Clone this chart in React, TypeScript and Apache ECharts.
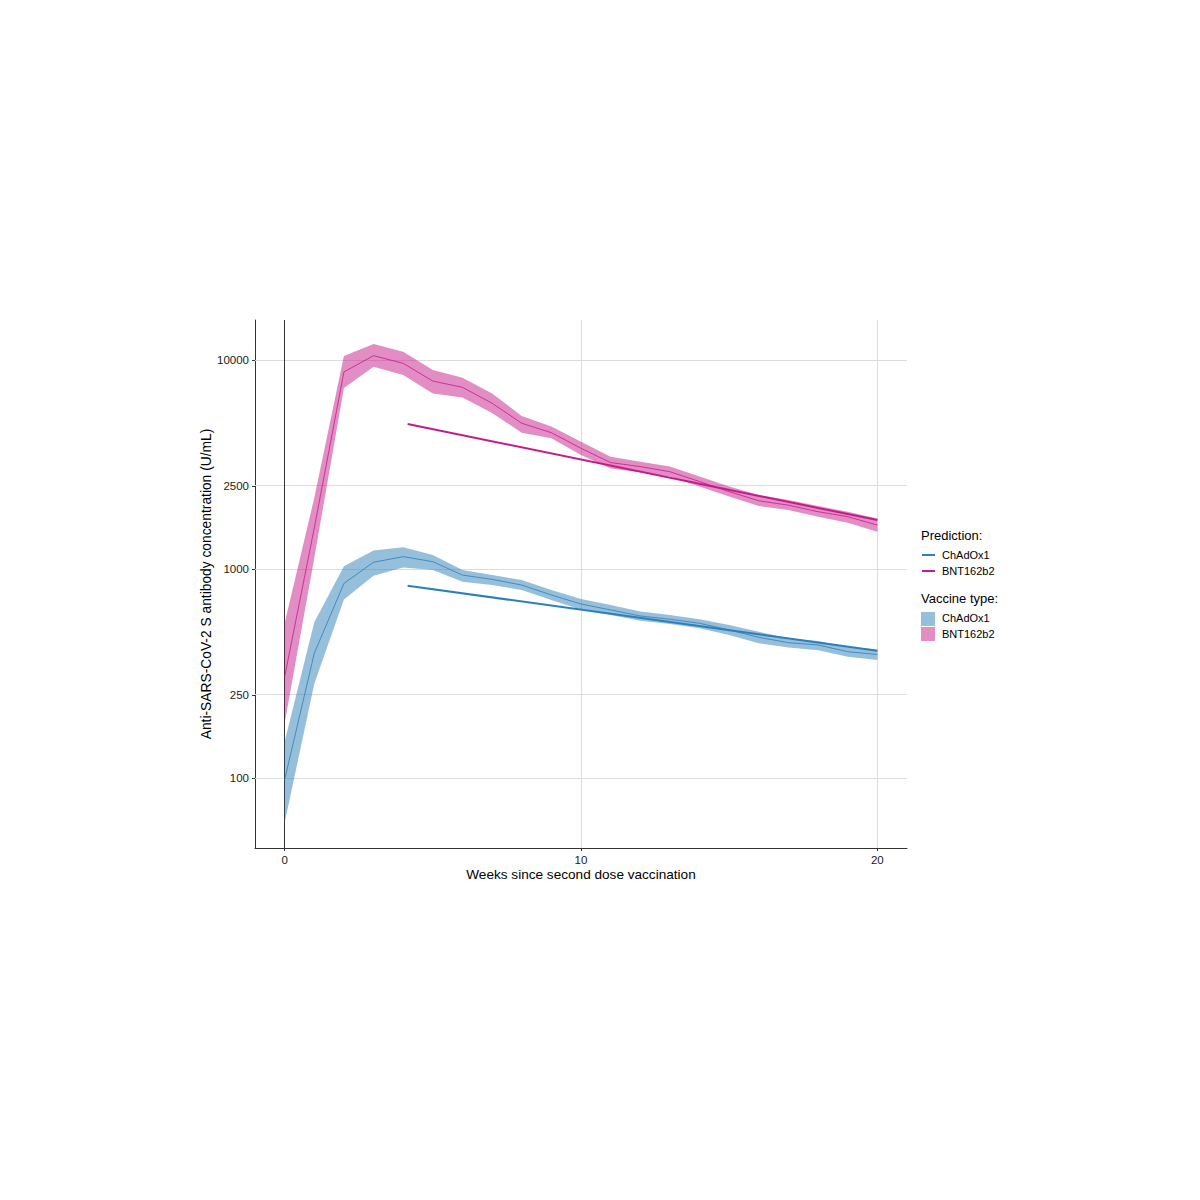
import React, { useEffect, useRef } from "react";
import * as echarts from "echarts";

// ---- Data ----
const weeks = [0, 1, 2, 3, 4, 5, 6, 7, 8, 9, 10, 11, 12, 13, 14, 15, 16, 17, 18, 19, 20];

const bntMid = [305, 1570, 8770, 10490, 9640, 7930, 7400, 6210, 4980, 4490, 3780, 3230, 3090, 2920, 2620, 2345, 2120, 2020, 1880, 1780, 1622];
const bntLo = [183, 1130, 7350, 9290, 8470, 6920, 6610, 5570, 4490, 4220, 3510, 3030, 2900, 2770, 2480, 2220, 2000, 1915, 1780, 1663, 1507];
const bntHi = [550, 2190, 10450, 11930, 10960, 8960, 8230, 6920, 5400, 4800, 4060, 3440, 3260, 3090, 2770, 2480, 2260, 2140, 2000, 1880, 1745];

const azMid = [98, 395, 853, 1077, 1146, 1084, 935, 892, 838, 751, 680, 637, 596, 575, 550, 511, 471, 444, 433, 402, 390];
const azLo = [61, 282, 715, 929, 1018, 988, 869, 838, 794, 711, 638, 603, 566, 546, 520, 483, 441, 421, 409, 380, 367];
const azHi = [149, 556, 1032, 1225, 1271, 1167, 988, 935, 885, 794, 718, 673, 626, 603, 575, 540, 501, 466, 452, 425, 412];

const predWeeks = [4.15, 20];
const azPred = [832, 406];
const bntPred = [4940, 1714];

const xTicks = [0, 10, 20];
const yTicks = [100, 250, 1000, 2500, 10000];

const xTitle = "Weeks since second dose vaccination";
const yTitle = "Anti-SARS-CoV-2 S antibody concentration (U/mL)";
const vaccineNames = ["ChAdOx1", "BNT162b2"];

// ---- Styles ----
const FONT = "'Liberation Sans', Arial, Helvetica, sans-serif";
const AZ_COLOR = "#2c7fb8";
const BNT_COLOR = "#c51b8a";
const AZ_FILL = "rgba(44,127,184,0.5)";
const BNT_FILL = "rgba(197,27,138,0.5)";
const GRID_COLOR = "#dcdcdc";

const lg = (v: number) => Math.log10(v);

function bandSeries(name: string, lo: number[], hi: number[], fill: string, extra: any = {}) {
  const data = weeks.map((w, i) => [w, lg(lo[i]), lg(hi[i])]);
  return {
    type: "custom",
    name,
    data,
    encode: { x: 0, y: [1, 2] },
    silent: true,
    clip: true,
    z: 2,
    renderItem: (params: any, api: any) => {
      if (params.dataIndex !== 0) return null;
      const upper = data.map((d) => api.coord([d[0], d[2]]));
      const lower = data.map((d) => api.coord([d[0], d[1]])).reverse();
      return {
        type: "polygon",
        shape: { points: upper.concat(lower) },
        style: { fill, stroke: "none" },
      };
    },
    ...extra,
  };
}

function lineSeries(name: string, xs: number[], ys: number[], color: string, width: number, z: number) {
  return {
    type: "line",
    name,
    data: xs.map((w, i) => [w, lg(ys[i])]),
    showSymbol: false,
    symbol: "none",
    lineStyle: { color, width },
    silent: true,
    z,
  };
}

export default function App() {
  const ref = useRef<HTMLDivElement>(null);

  useEffect(() => {
    if (!ref.current) return;
    const chart = echarts.init(ref.current, undefined, { renderer: "svg" });

    const gridMarks = {
      markLine: {
        silent: true,
        symbol: ["none", "none"],
        label: { show: false },
        z: 1,
        animation: false,
        lineStyle: { color: GRID_COLOR, width: 1, type: "solid" },
        data: [
          ...yTicks.map((v) => ({ yAxis: lg(v) })),
          ...xTicks.filter((x) => x !== 0).map((x) => ({ xAxis: x })),
          { xAxis: 0, lineStyle: { color: "#333333", width: 1, type: "solid" } },
        ],
      },
    };

    const legendX = 921;
    const legendTextX = 942;
    const legendGraphic = [
      { type: "text", left: legendX, top: 529, style: { text: "Prediction:", font: `13px ${FONT}`, fill: "#000" } },
      { type: "line", shape: { x1: 922, y1: 555, x2: 935, y2: 555 }, style: { stroke: AZ_COLOR, lineWidth: 2 } },
      { type: "text", left: legendTextX, top: 549, style: { text: vaccineNames[0], font: `11px ${FONT}`, fill: "#000" } },
      { type: "line", shape: { x1: 922, y1: 571, x2: 935, y2: 571 }, style: { stroke: BNT_COLOR, lineWidth: 2 } },
      { type: "text", left: legendTextX, top: 565, style: { text: vaccineNames[1], font: `11px ${FONT}`, fill: "#000" } },
      { type: "text", left: legendX, top: 592, style: { text: "Vaccine type:", font: `13px ${FONT}`, fill: "#000" } },
      { type: "rect", shape: { x: 921, y: 612, width: 14, height: 14 }, style: { fill: AZ_FILL } },
      { type: "text", left: legendTextX, top: 612, style: { text: vaccineNames[0], font: `11px ${FONT}`, fill: "#000" } },
      { type: "rect", shape: { x: 921, y: 627, width: 14, height: 14 }, style: { fill: BNT_FILL } },
      { type: "text", left: legendTextX, top: 628, style: { text: vaccineNames[1], font: `11px ${FONT}`, fill: "#000" } },
    ];

    const option: any = {
      animation: false,
      backgroundColor: "#ffffff",
      textStyle: { fontFamily: FONT },
      grid: { left: 255, top: 320, right: 293, bottom: 352, containLabel: false },
      xAxis: {
        type: "value",
        min: -1,
        max: 21,
        axisLine: { show: true, onZero: false, lineStyle: { color: "#333333", width: 1 } },
        axisTick: { show: true, length: 3, customValues: xTicks, lineStyle: { color: "#333333" } },
        axisLabel: {
          customValues: xTicks,
          margin: 6,
          fontSize: 11.5,
          color: "#1a1a1a",
          fontFamily: FONT,
        },
        splitLine: { show: false },
        name: xTitle,
        nameLocation: "middle",
        nameGap: 19,
        nameMoveOverlap: false,
        nameTextStyle: { fontSize: 13.6, color: "#000", fontFamily: FONT },
      },
      yAxis: {
        type: "value",
        min: 1.665,
        max: 4.1914,
        axisLine: { show: true, onZero: false, lineStyle: { color: "#333333", width: 1 } },
        axisTick: { show: true, length: 3, customValues: yTicks.map(lg), lineStyle: { color: "#333333" } },
        axisLabel: {
          customValues: yTicks.map(lg),
          margin: 6,
          fontSize: 11.5,
          color: "#1a1a1a",
          fontFamily: FONT,
          formatter: (v: number) => String(Math.round(Math.pow(10, v))),
        },
        splitLine: { show: false },
        name: yTitle,
        nameLocation: "middle",
        nameGap: 42,
        nameMoveOverlap: false,
        nameRotate: 90,
        nameTextStyle: { fontSize: 13.8, color: "#000", fontFamily: FONT },
      },
      graphic: legendGraphic,
      series: [
        bandSeries("ChAdOx1 band", azLo, azHi, AZ_FILL, gridMarks),
        bandSeries("BNT162b2 band", bntLo, bntHi, BNT_FILL),
        lineSeries("ChAdOx1 mean", weeks, azMid, AZ_COLOR, 0.8, 3),
        lineSeries("BNT162b2 mean", weeks, bntMid, BNT_COLOR, 0.8, 3),
        lineSeries("ChAdOx1 prediction", predWeeks, azPred, AZ_COLOR, 2, 4),
        lineSeries("BNT162b2 prediction", predWeeks, bntPred, BNT_COLOR, 2, 4),
      ],
    };

    chart.setOption(option);
    return () => chart.dispose();
  }, []);

  return (
    <div
      ref={ref}
      style={{ position: "absolute", left: 0, top: 0, width: 1200, height: 1200, background: "#fff" }}
    />
  );
}
